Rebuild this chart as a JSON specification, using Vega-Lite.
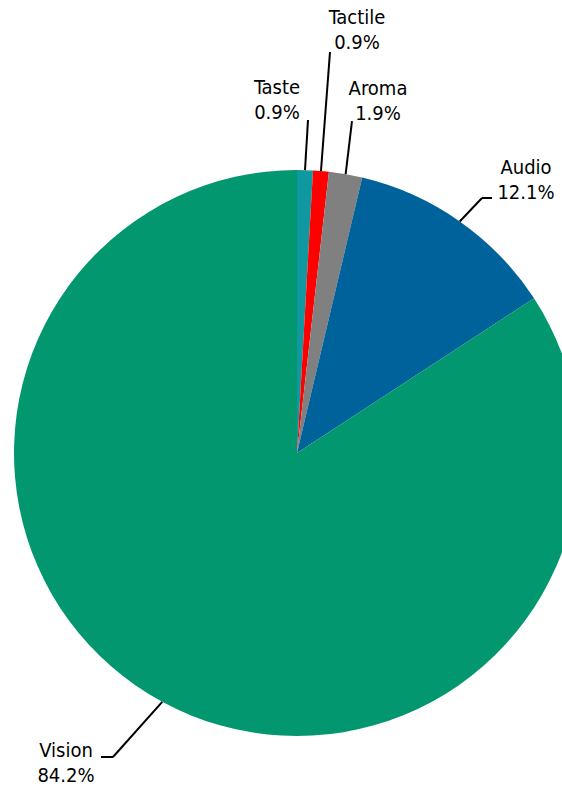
{
  "$schema": "https://vega.github.io/schema/vega-lite/v6.json",
  "width": 562,
  "height": 787,
  "padding": 0,
  "autosize": {"type": "none"},
  "background": "white",
  "config": {"view": {"stroke": null}},
  "data": {
    "values": [
      {"sense": "Taste", "pct": 0.9, "order": 1},
      {"sense": "Tactile", "pct": 0.9, "order": 2},
      {"sense": "Aroma", "pct": 1.9, "order": 3},
      {"sense": "Audio", "pct": 12.1, "order": 4},
      {"sense": "Vision", "pct": 84.2, "order": 5}
    ]
  },
  "transform": [
    {"window": [{"op": "sum", "field": "pct", "as": "cum"}], "sort": [{"field": "order"}], "frame": [null, 0]},
    {"calculate": "2 * PI * (datum.cum - datum.pct / 2) / 100", "as": "mid"},
    {"calculate": "sin(datum.mid)", "as": "sx"},
    {"calculate": "cos(datum.mid)", "as": "sy"},
    {"calculate": "{'Taste': 0.0389, 'Tactile': 0.1166, 'Aroma': 0.1943, 'Audio': 0.6537, 'Vision': -0.6502}[datum.sense]", "as": "ex"},
    {"calculate": "{'Taste': 1.1767, 'Tactile': 1.4170, 'Aroma': 1.1731, 'Audio': 0.9011, 'Vision': -1.0742}[datum.sense]", "as": "ey"},
    {"calculate": "{'Taste': 0.0389, 'Tactile': 0.1166, 'Aroma': 0.1943, 'Audio': 0.6890, 'Vision': -0.6926}[datum.sense]", "as": "hx"},
    {"calculate": "{'Taste': -0.0707, 'Tactile': 0.2120, 'Aroma': 0.2862, 'Audio': 0.8092, 'Vision': -0.8163}[datum.sense]", "as": "lx"},
    {"calculate": "{'Taste': 1.2686, 'Tactile': 1.5159, 'Aroma': 1.2650, 'Audio': 0.9859, 'Vision': -1.0742}[datum.sense]", "as": "ly"},
    {"calculate": "[datum.sense, format(datum.pct, '.1f') + '%']", "as": "label"}
  ],
  "layer": [
    {
      "mark": {"type": "arc", "outerRadius": 283},
      "encoding": {
        "x": {"datum": 0, "type": "quantitative", "scale": {"domain": [-1.04947, 0.9364], "nice": false, "zero": false}, "axis": null},
        "y": {"datum": 0, "type": "quantitative", "scale": {"domain": [-1.18021, 1.60071], "nice": false, "zero": false}, "axis": null},
        "theta": {"field": "pct", "type": "quantitative", "stack": true},
        "order": {"field": "order", "type": "quantitative"},
        "color": {
          "field": "sense", "type": "nominal", "legend": null,
          "scale": {"domain": ["Taste", "Tactile", "Aroma", "Audio", "Vision"], "range": ["#11979F", "#FF0000", "#808080", "#00629A", "#03976F"]}
        }
      }
    },
    {
      "mark": {"type": "rule", "color": "#000000", "strokeWidth": 2},
      "encoding": {
        "x": {"field": "sx", "type": "quantitative"},
        "y": {"field": "sy", "type": "quantitative"},
        "x2": {"field": "ex"},
        "y2": {"field": "ey"}
      }
    },
    {
      "transform": [{"filter": "datum.sense === 'Audio' || datum.sense === 'Vision'"}],
      "mark": {"type": "rule", "color": "#000000", "strokeWidth": 2},
      "encoding": {
        "x": {"field": "ex", "type": "quantitative"},
        "x2": {"field": "hx"},
        "y": {"field": "ey", "type": "quantitative"}
      }
    },
    {
      "mark": {"type": "text", "align": "center", "baseline": "alphabetic", "font": "DejaVu Sans Condensed, DejaVu Sans", "fontSize": 20, "lineHeight": 25, "color": "#000000"},
      "encoding": {
        "x": {"field": "lx", "type": "quantitative"},
        "y": {"field": "ly", "type": "quantitative"},
        "text": {"field": "label"}
      }
    }
  ]
}
